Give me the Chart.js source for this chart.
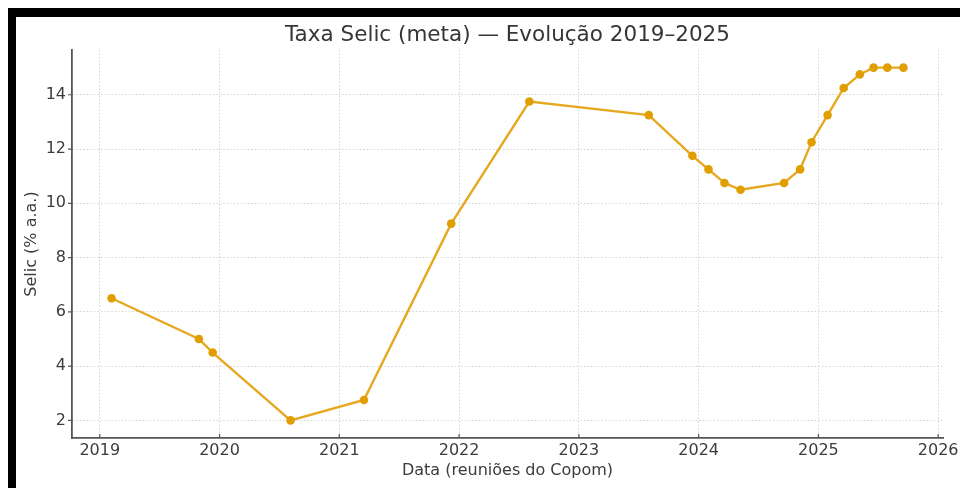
<!DOCTYPE html>
<html>
<head>
<meta charset="utf-8">
<script src="https://cdn.jsdelivr.net/npm/chart.js@4"></script>
<style>
  html, body { margin: 0; padding: 0; background: #fff; }
  #wrap { position: relative; width: 960px; height: 488px; overflow: hidden; }
  #grafico { position: absolute; left: 0; top: 0; }
  .frame-top { position: absolute; left: 8px; top: 8px; width: 952px; height: 9px; background: #000; }
  .frame-left { position: absolute; left: 8px; top: 8px; width: 8px; height: 480px; background: #000; }
</style>
</head>
<body>
<div id="wrap">
  <canvas id="grafico" width="960" height="488"></canvas>
  <div class="frame-top"></div>
  <div class="frame-left"></div>
</div>
<script>
// Reuniões do Copom e meta Selic (% a.a.)
const datasReunioes = [
  '2019-02-06', '2019-10-30', '2019-12-11', '2020-08-05', '2021-03-17',
  '2021-12-08', '2022-08-03', '2023-08-02', '2023-12-13', '2024-01-31',
  '2024-03-20', '2024-05-08', '2024-09-18', '2024-11-06', '2024-12-11',
  '2025-01-29', '2025-03-19', '2025-05-07', '2025-06-18', '2025-07-30',
  '2025-09-17'
];
const selicMeta = [
  6.5, 5.0, 4.5, 2.0, 2.75,
  9.25, 13.75, 13.25, 11.75, 11.25,
  10.75, 10.5, 10.75, 11.25, 12.25,
  13.25, 14.25, 14.75, 15.0, 15.0,
  15.0
];
const anosTicks = [2019, 2020, 2021, 2022, 2023, 2024, 2025, 2026];
const selicTicks = [2, 4, 6, 8, 10, 12, 14];

const tituloGrafico = 'Taxa Selic (meta) — Evolução 2019–2025';
const tituloX = 'Data (reuniões do Copom)';
const tituloY = 'Selic (% a.a.)';

// data 'YYYY-MM-DD' -> ano decimal
function anoDecimal(str) {
  const [a, m, d] = str.split('-').map(Number);
  const inicio = Date.UTC(a, 0, 1);
  const fim = Date.UTC(a + 1, 0, 1);
  return a + (Date.UTC(a, m - 1, d) - inicio) / (fim - inicio);
}

const pontos = datasReunioes.map((d, i) => ({ x: anoDecimal(d), y: selicMeta[i] }));

// margens de 5% como no matplotlib
const xs = pontos.map(p => p.x);
const xMin = Math.min(...xs), xMax = Math.max(...xs);
const xPad = (xMax - xMin) * 0.05;
const yMin = Math.min(...selicMeta), yMax = Math.max(...selicMeta);
const yPad = (yMax - yMin) * 0.05;

const fonte = '"DejaVu Sans", Verdana, sans-serif';
const corTexto = '#3c3c3c';

// titulo centrado sobre a área do gráfico + pequenos traços dos ticks
const tituloPlugin = {
  id: 'tituloCentrado',
  afterDraw(chart) {
    const { ctx, chartArea, scales } = chart;
    ctx.save();
    ctx.font = '21.5px ' + fonte;
    ctx.fillStyle = '#363636';
    ctx.textAlign = 'center';
    ctx.textBaseline = 'middle';
    ctx.fillText(tituloGrafico, (chartArea.left + chartArea.right) / 2, 35);

    ctx.strokeStyle = '#555';
    ctx.lineWidth = 1.2;
    ctx.beginPath();
    scales.x.ticks.forEach(t => {
      const px = scales.x.getPixelForValue(t.value);
      ctx.moveTo(px, chartArea.bottom);
      ctx.lineTo(px, chartArea.bottom - 4);
    });
    scales.y.ticks.forEach(t => {
      const py = scales.y.getPixelForValue(t.value);
      ctx.moveTo(chartArea.left, py);
      ctx.lineTo(chartArea.left - 4, py);
    });
    ctx.stroke();
    ctx.restore();
  }
};

new Chart(document.getElementById('grafico'), {
  type: 'line',
  data: {
    datasets: [{
      label: 'Selic',
      data: pontos,
      borderColor: '#E6A820',
      borderWidth: 2.4,
      backgroundColor: '#E09E00',
      pointBackgroundColor: '#E09E00',
      pointBorderColor: '#E09E00',
      pointRadius: 4.3,
      pointBorderWidth: 0,
      tension: 0,
      fill: false
    }]
  },
  options: {
    responsive: false,
    animation: false,
    devicePixelRatio: 1,
    layout: { padding: { top: 50, right: 17, left: 0, bottom: 0 } },
    plugins: {
      legend: { display: false },
      tooltip: { enabled: false },
      title: { display: false }
    },
    scales: {
      x: {
        type: 'linear',
        min: xMin - xPad,
        max: xMax + xPad,
        afterBuildTicks: scale => { scale.ticks = anosTicks.map(v => ({ value: v })); },
        afterFit: scale => { scale.height = 50; scale.paddingLeft = 0; scale.paddingRight = 0; },
        ticks: {
          callback: v => String(v),
          color: corTexto,
          font: { family: fonte, size: 16 },
          padding: 3,
          maxRotation: 0,
          autoSkip: false
        },
        grid: { color: '#d4d4d4', lineWidth: 1, drawTicks: false },
        border: { color: '#555', width: 1.8, dash: [1.5, 2] },
        title: {
          display: true,
          text: tituloX,
          color: corTexto,
          font: { family: fonte, size: 16 },
          padding: { top: 0, bottom: 8 }
        }
      },
      y: {
        type: 'linear',
        min: yMin - yPad,
        max: yMax + yPad,
        afterBuildTicks: scale => { scale.ticks = selicTicks.map(v => ({ value: v })); },
        afterFit: scale => { scale.width = 72; },
        ticks: {
          callback: v => String(v),
          color: corTexto,
          font: { family: fonte, size: 16 },
          padding: 6
        },
        grid: { color: '#d4d4d4', lineWidth: 1, drawTicks: false },
        border: { color: '#555', width: 1.8, dash: [1.5, 2] },
        title: {
          display: true,
          text: tituloY,
          color: corTexto,
          font: { family: fonte, size: 16 },
          padding: { top: 22, bottom: 0 }
        }
      }
    }
  },
  plugins: [tituloPlugin]
});
</script>
</body>
</html>
